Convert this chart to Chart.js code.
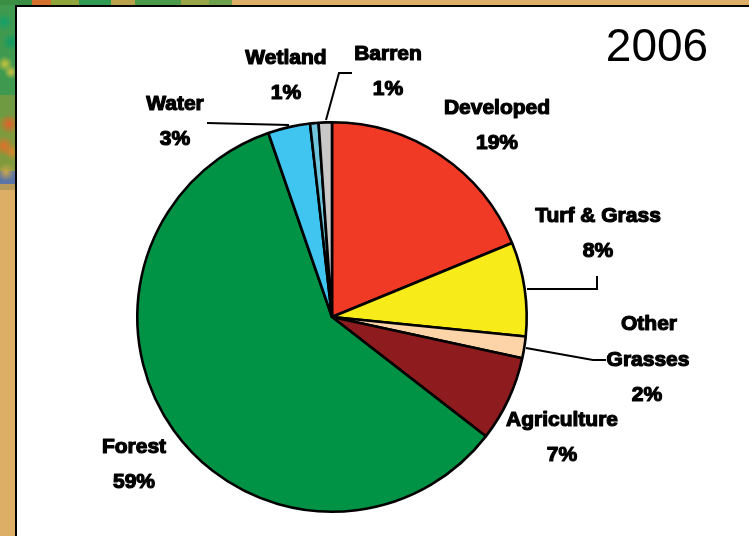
<!DOCTYPE html>
<html><head><meta charset="utf-8">
<script src="https://cdn.jsdelivr.net/npm/chart.js@4"></script>
<style>
html,body{margin:0;padding:0;width:749px;height:536px;overflow:hidden;background:#DDAE66}
#strip{position:absolute;left:0;top:0;width:15px;height:190px;background:
 radial-gradient(circle 9px at 4px 22px,#12a06a,transparent),
 radial-gradient(circle 9px at 11px 42px,#0f9a66,transparent),
 radial-gradient(circle 8px at 5px 64px,#c9c23c,transparent),
 radial-gradient(circle 7px at 11px 72px,#d0c040,transparent),
 radial-gradient(circle 10px at 9px 124px,#e0602a,transparent),
 radial-gradient(circle 10px at 4px 146px,#e4702a,transparent),
 radial-gradient(circle 8px at 12px 152px,#d8822e,transparent),
 radial-gradient(circle 9px at 6px 172px,#c8a54a,transparent),
 linear-gradient(180deg,#3f9a50 0 50%,#6f9a42 50% 62%,#7f9a3c 62% 90%,#5a74a6 90% 97%,#b79a5a 97% 100%)}
#stripTop{position:absolute;left:0;top:0;width:232px;height:5px;background:linear-gradient(90deg,#3a8f45 0 14%,#d2702c 14% 22%,#8fa53c 22% 34%,#2f9a52 34% 48%,#b9a24a 48% 58%,#4a9a4a 58% 78%,#9aa548 78% 90%,#6da04a 90% 100%)}
#frame{position:absolute;left:15px;top:5px;width:734px;height:531px;background:#fff;border-left:2px solid #000;border-top:2px solid #000;box-sizing:border-box}
canvas{position:absolute;left:0;top:0}
</style></head><body>
<div id="strip"></div><div id="stripTop"></div><div id="frame"></div>
<canvas id="c" width="749" height="536"></canvas>
<script>
const categories=["Developed","Turf & Grass","Other Grasses","Agriculture","Forest","Water","Wetland","Barren"];
const shareValues=[18.8,7.8,1.8,7.1,59.2,3.5,0.7,1.1];
const percentLabels=["19%","8%","2%","7%","59%","3%","1%","1%"];
const sliceColors=["#F03A26","#F7EC1A","#FDD3A8","#8E1B1E","#009345","#40C4F0","#6EC5DC","#C8C8C8"];
const yearTitle="2006";

const textLayout=[
 {lines:[[0,497,108],[1,497,143]],i:0},
 {lines:[[0,598,216],[1,598,251]],i:1},
 {lines:[["Other",649,324],["Grasses",648,360],[1,647,395]],i:2},
 {lines:[[0,562,420],[1,562,455]],i:3},
 {lines:[[0,134,447],[1,134,482]],i:4},
 {lines:[[0,175,104],[1,175,139]],i:5},
 {lines:[[0,286,58],[1,286,93]],i:6},
 {lines:[[0,388,54],[1,388,89]],i:7}
];
const leaders=[
 [[527,289],[597,289],[597,276]],
 [[526,348],[593,360],[606,360]],
 [[207,123],[289,125]],
 [[326,120],[339,73],[352,73]]
];
const labelPlugin={id:"labels",afterDraw(chart){
 const g=chart.ctx;g.save();
 g.strokeStyle="#000";g.lineWidth=2;
 leaders.forEach(p=>{g.beginPath();p.forEach((q,k)=>k?g.lineTo(q[0],q[1]):g.moveTo(q[0],q[1]));g.stroke();});
 g.textAlign="center";g.textBaseline="middle";g.fillStyle="#000";g.strokeStyle="#000";g.lineJoin="round";
 g.font='bold 21px "Liberation Sans",sans-serif';g.lineWidth=1.2;
 textLayout.forEach(t=>t.lines.forEach(l=>{
  const s=l[0]===0?categories[t.i]:l[0]===1?percentLabels[t.i]:l[0];
  g.fillText(s,l[1],l[2]);g.strokeText(s,l[1],l[2]);
 }));
 g.font='46px "Liberation Sans",Arial,sans-serif';
 g.fillText(yearTitle,657,48);
 g.restore();
}};
new Chart(document.getElementById("c"),{
 type:"pie",
 data:{labels:categories,datasets:[{data:shareValues,backgroundColor:sliceColors,borderColor:"#000",borderWidth:2.6,borderAlign:"center"}]},
 options:{responsive:false,animation:false,rotation:0,
  layout:{padding:{left:136,right:221,top:121,bottom:23}},
  plugins:{legend:{display:false},tooltip:{enabled:false},title:{display:false}}},
 plugins:[labelPlugin]
});
</script></body></html>
